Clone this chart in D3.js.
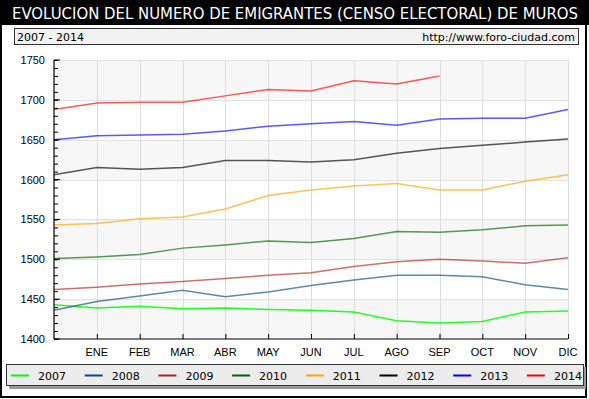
<!DOCTYPE html>
<html>
<head>
<meta charset="utf-8">
<script src="https://cdn.jsdelivr.net/npm/d3@7"></script>
<style>
  body { margin: 0; background: #fff; }
  svg { display: block; font-family: "DejaVu Sans", Verdana, sans-serif; }
</style>
</head>
<body>
<div id="chart"></div>
<script>
// data (index 0 = start point, then ENE..DIC)
const months = ["", "ENE", "FEB", "MAR", "ABR", "MAY", "JUN", "JUL", "AGO", "SEP", "OCT", "NOV", "DIC"];
const years = ["2007", "2008", "2009", "2010", "2011", "2012", "2013", "2014"];
const colors = ["#00ff00", "#0b4a7a", "#b22222", "#006400", "#ffa500", "#000000", "#0000ff", "#ff0000"];
const yTicks = [1400, 1450, 1500, 1550, 1600, 1650, 1700, 1750];

const v2007 = [1443, 1439, 1441, 1438, 1439, 1437, 1436, 1434, 1423, 1420, 1422, 1434, 1435];
const v2008 = [1436, 1447, 1454, 1461, 1453, 1459, 1467, 1474, 1480, 1480, 1478, 1468, 1462];
const v2009 = [1462, 1465, 1469, 1472, 1476, 1480, 1483, 1491, 1497, 1500, 1498, 1495, 1502];
const v2010 = [1501, 1503, 1506, 1514, 1518, 1523, 1521, 1526, 1535, 1534, 1537, 1542, 1543];
const v2011 = [1543, 1545, 1551, 1553, 1563, 1580, 1587, 1592, 1595, 1587, 1587, 1598, 1606];
const v2012 = [1606, 1615, 1613, 1615, 1624, 1624, 1622, 1625, 1633, 1639, 1643, 1647, 1651];
const v2013 = [1650, 1655, 1656, 1657, 1661, 1667, 1670, 1673, 1668, 1676, 1677, 1677, 1688];
const v2014 = [1688, 1696, 1697, 1697, 1705, 1713, 1711, 1724, 1720, 1730];

const series = [v2007, v2008, v2009, v2010, v2011, v2012, v2013, v2014];

const W = 589, H = 399;
const margin = { top: 60, right: 21, bottom: 60, left: 54 };

const svg = d3.select("#chart").append("svg")
  .attr("width", W).attr("height", H);

// outer frame
svg.append("rect").attr("x", 0).attr("y", 0).attr("width", W).attr("height", H).attr("fill", "#fff");
svg.append("rect").attr("x", 1).attr("y", 1).attr("width", 585).attr("height", 396)
  .attr("fill", "none").attr("stroke", "#000").attr("stroke-width", 2);

// title bar
svg.append("rect").attr("x", 0).attr("y", 0).attr("width", W).attr("height", 25).attr("fill", "#000");
svg.append("text").attr("x", 12).attr("y", 19)
  .attr("fill", "#fff").attr("font-size", 15)
  .attr("textLength", 566).attr("lengthAdjust", "spacingAndGlyphs")
  .text("EVOLUCION DEL NUMERO DE EMIGRANTES (CENSO ELECTORAL) DE MUROS");

// subtitle box
svg.append("rect").attr("x", 14.5).attr("y", 28.5).attr("width", 564).attr("height", 16)
  .attr("fill", "#f2f2f2").attr("stroke", "#333");
svg.append("text").attr("x", 17).attr("y", 41).attr("font-size", 11).attr("fill", "#000")
  .text("2007 - 2014");
svg.append("text").attr("x", 575).attr("y", 41).attr("font-size", 11).attr("fill", "#000")
  .attr("text-anchor", "end").text("http://www.foro-ciudad.com");

const x = d3.scaleLinear().domain([0, 12]).range([margin.left, W - margin.right]);
const y = d3.scaleLinear().domain([1400, 1750]).range([H - margin.bottom, margin.top]);

const plot = svg.append("g");

// alternating bands
d3.range(yTicks.length - 1).forEach(i => {
  plot.append("rect")
    .attr("x", x(0)).attr("width", x(12) - x(0))
    .attr("y", y(yTicks[i + 1])).attr("height", y(yTicks[i]) - y(yTicks[i + 1]))
    .attr("fill", i % 2 === 0 ? "#f7f7f7" : "#fff");
});

// grid
plot.append("g").selectAll("line").data(yTicks.slice(1)).join("line")
  .attr("x1", x(0)).attr("x2", x(12))
  .attr("y1", d => Math.round(y(d)) + 0.5).attr("y2", d => Math.round(y(d)) + 0.5)
  .attr("stroke", "#e2e2e2");
plot.append("g").selectAll("line").data(d3.range(1, 13)).join("line")
  .attr("x1", d => Math.round(x(d)) + 0.5).attr("x2", d => Math.round(x(d)) + 0.5)
  .attr("y1", y(1750)).attr("y2", y(1400))
  .attr("stroke", "#dedede");

// lines
const line = d3.line().x((d, i) => x(i)).y(d => y(d));
series.forEach((s, k) => {
  plot.append("path").datum(s)
    .attr("d", line)
    .attr("fill", "none")
    .attr("stroke", colors[k])
    .attr("stroke-opacity", k === 0 ? 0.85 : 0.65)
    .attr("stroke-width", 1.5);
});

// y axis
const yAxis = svg.append("g").attr("transform", `translate(${x(0)},0)`);
yAxis.call(d3.axisRight(y).tickValues(d3.range(1400, 1751, 10)).tickSize(4).tickFormat(""))
  .call(g => g.select(".domain").remove());
yAxis.selectAll("line").attr("stroke", "#000");
yAxis.append("g").selectAll("line").data(yTicks).join("line")
  .attr("x1", 0).attr("x2", 6)
  .attr("y1", d => y(d)).attr("y2", d => y(d)).attr("stroke", "#000");
yAxis.append("g").selectAll("text").data(yTicks).join("text")
  .attr("x", -9).attr("y", d => y(d) + 4)
  .attr("text-anchor", "end").attr("font-size", 11).attr("fill", "#000")
  .text(d => d);
yAxis.append("line").attr("x1", 0).attr("x2", 0).attr("y1", y(1750)).attr("y2", y(1400))
  .attr("stroke", "#000").attr("stroke-width", 1.2);

// x axis
const xAxis = svg.append("g").attr("transform", `translate(0,${y(1400)})`);
xAxis.call(d3.axisTop(x).tickValues(d3.range(1, 13)).tickSize(5).tickFormat(""))
  .call(g => g.select(".domain").remove());
xAxis.selectAll("line").attr("stroke", "#000");
xAxis.append("line").attr("x1", x(0)).attr("x2", x(12)).attr("stroke", "#000").attr("stroke-width", 1.2);
xAxis.append("g").selectAll("text").data(d3.range(1, 13)).join("text")
  .attr("x", d => x(d)).attr("y", 17)
  .attr("text-anchor", "middle").attr("font-size", 11).attr("fill", "#000")
  .text(d => months[d]);

// legend
const lg = svg.append("g");
lg.append("rect").attr("x", 9).attr("y", 367).attr("width", 577).attr("height", 22).attr("fill", "#999");
lg.append("rect").attr("x", 6.5).attr("y", 364.5).attr("width", 577).attr("height", 21)
  .attr("fill", "#ececec").attr("stroke", "#333");
const item = lg.selectAll("g.item").data(years).join("g")
  .attr("transform", (d, i) => `translate(${11 + i * 73.7},0)`);
item.append("line").attr("x1", 0).attr("x2", 18).attr("y1", 375.5).attr("y2", 375.5)
  .attr("stroke", (d, i) => colors[i]).attr("stroke-width", 2);
item.append("text").attr("x", 27).attr("y", 380).attr("font-size", 11).attr("fill", "#000")
  .text(d => d);
</script>
</body>
</html>
